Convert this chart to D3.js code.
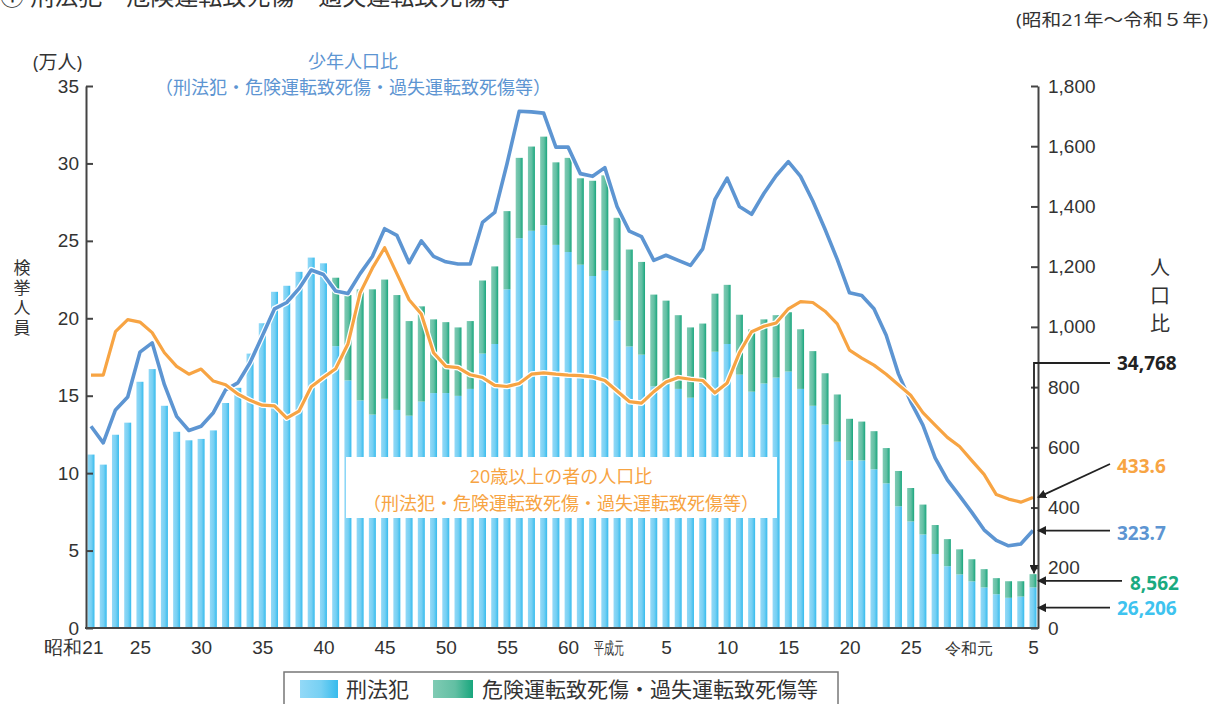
<!DOCTYPE html>
<html>
<head>
<meta charset="utf-8">
<script src="https://cdn.jsdelivr.net/npm/d3@7"></script>
<style>
  body { margin: 0; background: #fff; }
  svg { display: block; font-family: "Open Sans", "Noto Sans CJK JP", sans-serif; }
</style>
</head>
<body>
<div id="chart"></div>
<script>
// 昭和21年(1946) ～ 令和5年(2023)
var years = d3.range(1946, 2024);

// 刑法犯 検挙人員 (万人)
var keihou = [11.2, 10.55, 12.48, 13.26, 15.9, 16.72, 14.35, 12.67, 12.12, 12.21,
  12.76, 14.53, 15.51, 17.72, 19.68, 21.71, 22.1, 23.0, 23.92, 23.55,
  18.2, 15.99, 14.7, 13.78, 14.8, 14.08, 13.71, 14.62, 15.17, 15.17,
  14.99, 15.44, 17.72, 18.34, 21.87, 25.17, 25.65, 26.01, 24.74, 24.28,
  23.46, 22.73, 23.08, 19.86, 18.18, 17.65, 15.6, 15.72, 15.44, 14.87,
  15.76, 17.84, 18.34, 16.36, 15.26, 15.79, 16.17, 16.56, 15.44, 14.35,
  13.14, 12.03, 10.82, 10.82, 10.25, 9.34, 7.86, 6.88, 6.04, 4.78,
  3.99, 3.46, 3.01, 2.62, 2.18, 1.95, 2.03, 2.6206];

// 危険運転致死傷・過失運転致死傷等 検挙人員 (万人)
var kiken = [0, 0, 0, 0, 0, 0, 0, 0, 0, 0,
  0, 0, 0, 0, 0, 0, 0, 0, 0, 0,
  4.42, 5.51, 7.17, 8.09, 7.7, 7.42, 6.11, 6.15, 4.76, 4.58,
  4.42, 4.38, 4.72, 5.01, 5.05, 5.19, 5.44, 5.72, 5.33, 6.08,
  5.58, 6.15, 6.15, 6.63, 6.26, 5.99, 5.93, 5.42, 4.76, 4.54,
  3.9, 3.75, 3.82, 3.87, 4.03, 4.14, 4.03, 3.83, 3.85, 3.53,
  3.31, 3.05, 2.69, 2.51, 2.46, 2.28, 2.28, 2.16, 1.93, 1.87,
  1.75, 1.62, 1.43, 1.18, 1.04, 1.07, 0.99, 0.8562];

// 少年人口比
var shonenRate = [670, 615, 724, 767, 916, 947, 808, 703, 656, 670,
  715, 791, 814, 881, 970, 1060, 1081, 1127, 1189, 1174,
  1119, 1111, 1177, 1234, 1326, 1304, 1213, 1286, 1234, 1216,
  1209, 1209, 1347, 1380, 1541, 1716, 1714, 1710, 1597, 1597,
  1509, 1500, 1529, 1400, 1318, 1300, 1221, 1238, 1221, 1204,
  1259, 1423, 1494, 1400, 1374, 1443, 1502, 1549, 1500, 1418,
  1324, 1224, 1113, 1104, 1060, 972, 844, 752, 674, 565,
  492, 439, 384, 326, 291, 273, 279, 323.7];

// 20歳以上の者の人口比
var adultRate = [840, 840, 984, 1024, 1016, 981, 914, 869, 843, 860,
  820, 808, 777, 756, 740, 738, 697, 720, 801, 832,
  861, 943, 1113, 1195, 1263, 1177, 1090, 1043, 914, 869,
  865, 841, 832, 806, 802, 812, 843, 847, 843, 840,
  838, 834, 822, 787, 752, 747, 785, 817, 832, 826,
  822, 781, 814, 914, 984, 1002, 1013, 1060, 1084, 1081,
  1052, 1010, 923, 896, 873, 843, 808, 773, 715, 674,
  633, 603, 556, 510, 443, 428, 418, 433.6];

// x軸ラベル
var tickYears = [1946, 1950, 1955, 1960, 1965, 1970, 1975, 1980, 1985, 1989, 1993, 1998, 2003, 2008, 2013, 2019, 2023];
var tickNames = ["昭和21", "25", "30", "35", "40", "45", "50", "55", "60", "平成元", "5", "10", "15", "20", "25", "令和元", "5"];

var width = 1226, height = 704;
var cBlue = "#5d95d2", cOrange = "#f7a443", cGreen = "#1aaa80", cCyan = "#3ec3ef";

var svg = d3.select("#chart").append("svg")
  .attr("width", width)
  .attr("height", height);

var defs = svg.append("defs");
function grad(id, stops) {
  var g = defs.append("linearGradient").attr("id", id)
    .attr("x1", "0%").attr("x2", "100%").attr("y1", "0%").attr("y2", "0%");
  stops.forEach(function (s) {
    g.append("stop").attr("offset", s[0]).attr("stop-color", s[1]);
  });
}
grad("gBlue", [["0%", "#93d9f7"], ["55%", "#76d0f3"], ["100%", "#36bbed"]]);
grad("gGreen", [["0%", "#80cbb4"], ["55%", "#62bfa3"], ["100%", "#18a67d"]]);

defs.append("marker").attr("id", "arrow")
  .attr("viewBox", "0 0 10 10").attr("refX", 9).attr("refY", 5)
  .attr("markerWidth", 5).attr("markerHeight", 5)
  .attr("markerUnits", "strokeWidth")
  .attr("orient", "auto")
  .append("path").attr("d", "M0,0 L10,5 L0,10 z").attr("fill", "#222");

var x = d3.scalePoint().domain(years).range([91, 1033]);
var yL = d3.scaleLinear().domain([0, 35]).range([628, 86]);
var yR = d3.scaleLinear().domain([0, 1800]).range([628, 86]);
var barW = 7;

var data = years.map(function (yr, i) {
  return { year: yr, keihou: keihou[i], kiken: kiken[i], shonen: shonenRate[i], adult: adultRate[i] };
});

// bars
var bars = svg.append("g");
bars.selectAll(".keihou")
  .data(data)
  .enter().append("rect")
  .attr("class", "keihou")
  .attr("x", function (d) { return x(d.year) - barW / 2 })
  .attr("width", barW)
  .attr("y", function (d) { return yL(d.keihou) })
  .attr("height", function (d) { return yL(0) - yL(d.keihou) })
  .attr("fill", "url(#gBlue)");

bars.selectAll(".kiken")
  .data(data.filter(function (d) { return d.kiken > 0 }))
  .enter().append("rect")
  .attr("class", "kiken")
  .attr("x", function (d) { return x(d.year) - barW / 2 })
  .attr("width", barW)
  .attr("y", function (d) { return yL(d.keihou + d.kiken) })
  .attr("height", function (d) { return yL(d.keihou) - yL(d.keihou + d.kiken) })
  .attr("fill", "url(#gGreen)");

// 20歳以上 label box
svg.append("rect").attr("x", 346).attr("y", 457).attr("width", 431).attr("height", 61).attr("fill", "#fff");
svg.append("text").attr("x", 561).attr("y", 483).attr("text-anchor", "middle")
  .attr("font-size", 18).attr("fill", cOrange).text("20歳以上の者の人口比");
svg.append("text").attr("x", 561).attr("y", 510).attr("text-anchor", "middle")
  .attr("font-size", 18).attr("fill", cOrange).text("（刑法犯・危険運転致死傷・過失運転致死傷等）");

// 少年 label
svg.append("text").attr("x", 353).attr("y", 68).attr("text-anchor", "middle")
  .attr("font-size", 18).attr("fill", cBlue).text("少年人口比");
svg.append("text").attr("x", 353).attr("y", 94).attr("text-anchor", "middle")
  .attr("font-size", 18).attr("fill", cBlue).text("（刑法犯・危険運転致死傷・過失運転致死傷等）");

// lines
function drawLine(key, color, w) {
  var line = d3.line()
    .x(function (d) { return x(d.year) })
    .y(function (d) { return yR(d[key]) });
  svg.append("path").datum(data).attr("d", line)
    .attr("fill", "none").attr("stroke", "#fff").attr("stroke-width", w + 2.5)
    .attr("stroke-linejoin", "round");
  svg.append("path").datum(data).attr("d", line)
    .attr("fill", "none").attr("stroke", color).attr("stroke-width", w)
    .attr("stroke-linejoin", "round");
}
drawLine("shonen", cBlue, 3.6);
drawLine("adult", cOrange, 3.2);

// axes
var axL = svg.append("g").attr("transform", "translate(86,0)")
  .call(d3.axisLeft(yL).tickValues(d3.range(0, 36, 5)).tickSize(-7).tickSizeOuter(0).tickPadding(7));
var axR = svg.append("g").attr("transform", "translate(1038,0)")
  .call(d3.axisRight(yR).tickValues(d3.range(0, 1801, 200)).tickFormat(d3.format(",")).tickSize(-7).tickSizeOuter(0).tickPadding(10));
[axL, axR].forEach(function (a) {
  a.selectAll("path, line").attr("stroke", "#444").attr("stroke-width", 2);
  a.selectAll("text").attr("font-size", 19).attr("fill", "#333").attr("font-family", null);
});

var axB = svg.append("g").attr("transform", "translate(0,628)")
  .call(d3.axisBottom(x).tickValues(tickYears).tickSize(0).tickPadding(13)
    .tickFormat(function (d) { return tickNames[tickYears.indexOf(d)] }));
axB.select(".domain").remove();
axB.selectAll("text").attr("font-size", 19).attr("fill", "#333").attr("font-family", null)
  .each(function (d) {
    var t = d3.select(this);
    if (d === 1946) t.attr("text-anchor", "end").attr("dx", 12);
    if (d === 1989) t.attr("text-anchor", "end").attr("dx", 6).attr("font-size", 17).attr("dy", "0.75em")
      .attr("textLength", 30).attr("lengthAdjust", "spacingAndGlyphs");
    if (d === 2019) t.attr("text-anchor", "end").attr("dx", 8).attr("font-size", 16).attr("dy", "0.8em");
  });
svg.append("line").attr("x1", 85).attr("x2", 1039).attr("y1", 628).attr("y2", 628)
  .attr("stroke", "#444").attr("stroke-width", 2);

// axis titles
svg.append("text").attr("x", 33).attr("y", 69).attr("font-size", 19).attr("fill", "#333").text("(万人)");
svg.append("text").attr("x", 1208).attr("y", 26).attr("text-anchor", "end")
  .attr("font-size", 17).attr("fill", "#333").attr("textLength", 192).attr("lengthAdjust", "spacingAndGlyphs")
  .text("(昭和21年～令和５年)");
svg.append("text").attr("x", 0).attr("y", 5).attr("font-size", 24).attr("fill", "#333")
  .text("① 刑法犯・危険運転致死傷・過失運転致死傷等");

// vertical axis labels
function vlabel(str, xp, yTop, size, spacing) {
  svg.append("text").attr("x", xp).attr("y", yTop)
    .attr("writing-mode", "vertical-rl")
    .attr("font-size", size).attr("letter-spacing", spacing)
    .attr("fill", "#333").text(str);
}
vlabel("検挙人員", 21, 259, 17, 3);
vlabel("人口比", 1159, 257, 20, 8);

// annotations for 令和5年
var last = data[data.length - 1];
var lx = x(last.year);
var ann = svg.append("g").attr("stroke", "#222").attr("stroke-width", 1.8).attr("fill", "none");
var totY = yL(last.keihou + last.kiken);
ann.append("path").attr("d", "M1110,363 H" + (lx + 1) + " V" + (totY - 1)).attr("marker-end", "url(#arrow)");
ann.append("line").attr("x1", 1110).attr("y1", 464).attr("x2", 1038).attr("y2", yR(last.adult)).attr("marker-end", "url(#arrow)");
ann.append("line").attr("x1", 1110).attr("y1", yR(last.shonen)).attr("x2", 1038).attr("y2", yR(last.shonen)).attr("marker-end", "url(#arrow)");
var gY = yL(last.keihou + last.kiken / 2), bY = yL(last.keihou / 2);
ann.append("line").attr("x1", 1122).attr("y1", gY).attr("x2", 1038).attr("y2", gY).attr("marker-end", "url(#arrow)");
ann.append("line").attr("x1", 1110).attr("y1", bY).attr("x2", 1038).attr("y2", bY).attr("marker-end", "url(#arrow)");

var fmt = d3.format(",");
function note(xp, yp, txt, color) {
  svg.append("text").attr("x", xp).attr("y", yp).attr("dy", "0.35em")
    .attr("font-size", 19).attr("font-weight", "bold").attr("fill", color).text(txt);
}
note(1117, 363, fmt(Math.round((last.keihou + last.kiken) * 10000)), "#222");
note(1117, 466, last.adult.toFixed(1), cOrange);
note(1117, 533, last.shonen.toFixed(1), cBlue);
note(1130, 583, fmt(Math.round(last.kiken * 10000)), cGreen);
note(1117, 608, fmt(Math.round(last.keihou * 10000)), cCyan);

// legend
var lg = svg.append("g");
lg.append("rect").attr("x", 284).attr("y", 672).attr("width", 554).attr("height", 40)
  .attr("fill", "#fff").attr("stroke", "#777").attr("stroke-width", 1.5);
lg.append("rect").attr("x", 300).attr("y", 680).attr("width", 38).attr("height", 18).attr("fill", "url(#gBlue)");
lg.append("text").attr("x", 346).attr("y", 697).attr("font-size", 21).attr("fill", "#333").text("刑法犯");
lg.append("rect").attr("x", 433).attr("y", 680).attr("width", 40).attr("height", 18).attr("fill", "url(#gGreen)");
lg.append("text").attr("x", 482).attr("y", 697).attr("font-size", 21).attr("fill", "#333").text("危険運転致死傷・過失運転致死傷等");
</script>
</body>
</html>
